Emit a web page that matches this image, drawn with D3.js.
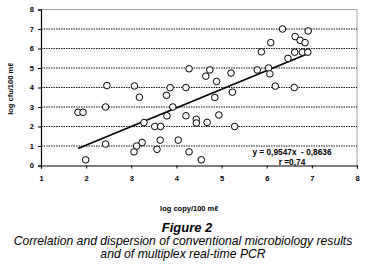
<!DOCTYPE html>
<html lang="en">
  <head>
    <meta charset="UTF-8" />
    <title>Figure 2</title>
    <script src="https://d3js.org/d3.v7.min.js"></script>
    <style>
      body { margin: 0; background: #fff; }
      text { font-family: "Liberation Sans", Arial, sans-serif; }
      .tick text { font-size: 7.5px; font-weight: bold; }
      .axis-title { font-size: 7.5px; font-weight: bold; }
      .eq { font-size: 8.3px; font-weight: bold; }
      .fig-title { font-size: 13px; font-weight: bold; font-style: italic; }
      .caption { font-size: 12.2px; font-style: italic; }
    </style>
  </head>
  <body>
    <svg id="chart" width="367" height="265"></svg>
    <script>
      // log copy/100 ml (x) and log cfu/100 ml (y)
      const copyLog = [
        1.82, 1.93, 1.99, 2.43, 2.43, 2.46, 3.07, 3.06, 3.12, 3.18, 3.24, 3.28,
        3.52, 3.65, 3.57, 3.64, 3.78, 3.79, 3.86, 3.92, 4.04, 4.21, 4.21, 4.28,
        4.28, 4.44, 4.44, 4.55, 4.65, 4.68, 4.74, 4.85, 4.89, 4.94, 5.21, 5.24,
        5.29, 5.79, 5.88, 6.04, 6.07, 6.09, 6.19, 6.35, 6.47, 6.61, 6.62, 6.63,
        6.74, 6.79, 6.85, 6.92, 6.91
      ];
      const cfuLog = [
        2.73, 2.73, 0.29, 1.1, 3.0, 4.1, 4.08, 0.7, 1.0, 3.5, 1.18, 2.2,
        2.0, 2.0, 0.83, 1.3, 3.6, 2.55, 3.99, 3.0, 1.3, 4.0, 2.55, 4.96,
        0.7, 2.37, 2.18, 0.29, 4.58, 2.21, 4.9, 3.49, 4.31, 2.59, 4.74, 3.76,
        2.0, 4.9, 5.83, 5.0, 4.7, 6.3, 4.07, 7.0, 5.49, 4.0, 5.81, 6.61,
        6.42, 5.81, 6.3, 6.9, 5.81
      ];
      const xTicks = [1, 2, 3, 4, 5, 6, 7, 8];
      const yTicks = [0, 1, 2, 3, 4, 5, 6, 7, 8];
      const slope = 0.9547;
      const intercept = -0.8636;
      const eqLabel = "y = 0,9547x  - 0,8636";
      const rLabel = "r =0,74";

      const svg = d3.select("#chart");
      const plot = { left: 41, right: 357, top: 9.5, bottom: 165.5 };

      const x = d3.scaleLinear().domain([1, 8]).range([plot.left, plot.right]);
      const y = d3.scaleLinear().domain([0, 8]).range([plot.bottom, plot.top]);

      // frame (grey top/right)
      svg.append("path")
        .attr("d", `M${plot.left},${plot.top}H${plot.right}V${plot.bottom}`)
        .attr("fill", "none")
        .attr("stroke", "#a0a0a0")
        .attr("stroke-width", 1);

      // dotted gridlines
      svg.append("g")
        .selectAll("line")
        .data(yTicks.filter((d) => d > 0 && d < 8))
        .join("line")
        .attr("x1", plot.left)
        .attr("x2", plot.right)
        .attr("y1", (d) => y(d))
        .attr("y2", (d) => y(d))
        .attr("stroke", "#111")
        .attr("stroke-width", 1)
        .attr("stroke-dasharray", "1.5,1");

      // axes
      const fmt = d3.format("d");
      const xAxis = svg.append("g")
        .attr("transform", `translate(0,${plot.bottom})`)
        .call(d3.axisBottom(x).tickValues(xTicks).tickFormat(fmt).tickSize(3).tickPadding(7));
      const yAxis = svg.append("g")
        .attr("transform", `translate(${plot.left},0)`)
        .call(d3.axisLeft(y).tickValues(yTicks).tickFormat(fmt).tickSize(3).tickPadding(4));
      [xAxis, yAxis].forEach((a) => {
        a.select(".domain").attr("stroke", "#000").attr("stroke-width", 1.2);
        a.selectAll(".tick line").attr("stroke", "#000");
        a.selectAll(".tick text").attr("fill", "#000");
      });

      // regression line
      const xExt = d3.extent(copyLog);
      svg.append("line")
        .attr("x1", x(xExt[0]))
        .attr("y1", y(slope * xExt[0] + intercept))
        .attr("x2", x(xExt[1]))
        .attr("y2", y(slope * xExt[1] + intercept))
        .attr("stroke", "#000")
        .attr("stroke-width", 1.6);

      // points
      svg.append("g")
        .selectAll("circle")
        .data(copyLog.map((d, i) => [d, cfuLog[i]]))
        .join("circle")
        .attr("cx", (d) => x(d[0]))
        .attr("cy", (d) => y(d[1]))
        .attr("r", 3.3)
        .attr("fill", "#fff")
        .attr("stroke", "#000")
        .attr("stroke-width", 1);

      // equation
      svg.append("text").attr("class", "eq")
        .attr("x", 292).attr("y", 155)
        .attr("text-anchor", "middle")
        .style("white-space", "pre")
        .text(eqLabel);
      svg.append("text").attr("class", "eq")
        .attr("x", 292).attr("y", 165)
        .attr("text-anchor", "middle")
        .text(rLabel);

      // axis titles
      svg.append("text").attr("class", "axis-title")
        .attr("x", 189).attr("y", 211)
        .attr("text-anchor", "middle")
        .text("log copy/100 m\u2113");
      svg.append("text").attr("class", "axis-title")
        .attr("transform", "translate(13,89) rotate(-90)")
        .attr("text-anchor", "middle")
        .text("log cfu/100 m\u2113");

      // figure caption
      svg.append("text").attr("class", "fig-title")
        .attr("x", 187).attr("y", 232)
        .attr("text-anchor", "middle")
        .text("Figure 2");
      svg.append("text").attr("class", "caption")
        .attr("x", 183).attr("y", 245)
        .attr("text-anchor", "middle")
        .text("Correlation and dispersion of conventional microbiology results");
      svg.append("text").attr("class", "caption")
        .attr("x", 183).attr("y", 258)
        .attr("text-anchor", "middle")
        .text("and of multiplex real-time PCR");
    </script>
  </body>
</html>
